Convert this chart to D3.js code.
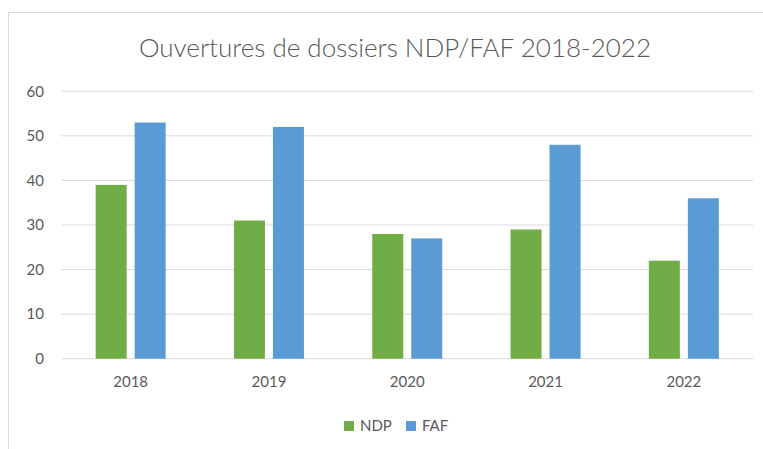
<!DOCTYPE html>
<html>
<head>
<meta charset="utf-8">
<script src="https://cdn.jsdelivr.net/npm/d3@7"></script>
<style>
  body { margin: 0; background: #fff; }
  text { font-family: Lato, "Open Sans", sans-serif; }
</style>
</head>
<body>
<div id="chart"></div>
<script>
// data
var years = ["2018", "2019", "2020", "2021", "2022"];
var ndp = [39, 31, 28, 29, 22];
var faf = [53, 52, 27, 48, 36];
var series = ["NDP", "FAF"];
var colors = ["#70AD47", "#5B9BD5"];
var yTicks = [0, 10, 20, 30, 40, 50, 60];

var W = 763, H = 449;
var plotL = 61.5, plotR = 753, plotT = 91.3, plotB = 358.7;

var svg = d3.select("#chart")
    .append("svg")
    .attr("width", W)
    .attr("height", H);

// chart border
svg.append("rect")
    .attr("x", 8.5).attr("y", 12.5)
    .attr("width", 780).attr("height", 460)
    .attr("fill", "none")
    .attr("stroke", "#d9d9d9");

svg.append("text")
    .attr("x", 395).attr("y", 57)
    .attr("text-anchor", "middle")
    .attr("font-size", "26px")
    .attr("font-weight", 300)
    .attr("fill", "#595959")
    .text("Ouvertures de dossiers NDP/FAF 2018-2022");

var x = d3.scaleBand().domain(years).range([plotL, plotR]);
var y = d3.scaleLinear().domain([0, 60]).range([plotB, plotT]);

// gridlines
svg.selectAll(".grid")
    .data(yTicks)
    .enter()
    .append("line")
    .attr("x1", plotL).attr("x2", plotR)
    .attr("y1", function(d) { return y(d); })
    .attr("y2", function(d) { return y(d); })
    .attr("stroke", "#d9d9d9")
    .attr("stroke-width", 1);

var yAxis = d3.axisLeft(y).tickValues(yTicks).tickSize(0).tickPadding(0);
var gy = svg.append("g").attr("transform", "translate(44,0)").call(yAxis);
gy.select(".domain").remove();
gy.selectAll("text").attr("font-size", "15px").attr("fill", "#595959")
    .attr("font-family", "Lato, sans-serif");

var xAxis = d3.axisBottom(x).tickSize(0).tickPadding(0);
var gx = svg.append("g").attr("transform", "translate(0," + (plotB + 18) + ")").call(xAxis);
gx.select(".domain").remove();
gx.selectAll("text").attr("font-size", "15px").attr("fill", "#595959")
    .attr("font-family", "Lato, sans-serif");

// bars
var barW = 31, gap = 8;
var values = [ndp, faf];
series.forEach(function(s, si) {
    svg.selectAll(".bar" + si)
        .data(years)
        .enter()
        .append("rect")
        .attr("x", function(d) {
            var c = x(d) + x.bandwidth() / 2;
            return si == 0 ? c - gap / 2 - barW : c + gap / 2;
        })
        .attr("y", function(d, i) { return y(values[si][i]); })
        .attr("width", barW)
        .attr("height", function(d, i) { return plotB - y(values[si][i]); })
        .attr("fill", colors[si]);
});

// legend
var lx = [344, 406];
series.forEach(function(s, si) {
    svg.append("rect")
        .attr("x", lx[si]).attr("y", 421)
        .attr("width", 10).attr("height", 10)
        .attr("fill", colors[si]);
    svg.append("text")
        .attr("x", lx[si] + 16).attr("y", 431)
        .attr("font-size", "15px")
        .attr("fill", "#595959")
        .text(s);
});
</script>
</body>
</html>
